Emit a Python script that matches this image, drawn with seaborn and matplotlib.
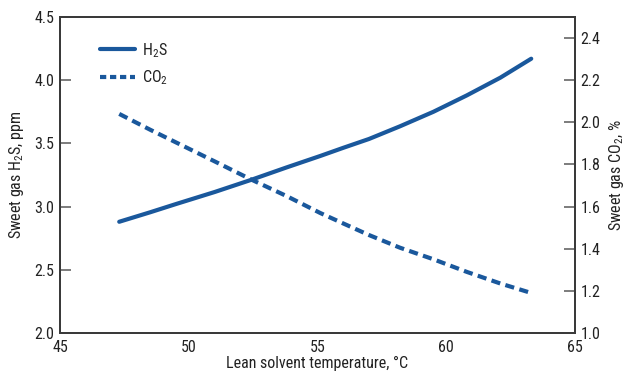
import matplotlib
matplotlib.use("Agg")
import matplotlib.pyplot as plt
from matplotlib import font_manager as fm
from matplotlib.lines import Line2D
import seaborn as sns
import pandas as pd

# Lean solvent temperature (°C) and sweet gas compositions
temperature = [47.3, 48.5, 49.5, 51.0, 52.4, 53.8, 55.1,
               56.0, 57.0, 58.2, 59.5, 60.8, 62.1, 63.3]
h2s_ppm = [2.88, 2.955, 3.02, 3.115, 3.21, 3.31, 3.40,
           3.465, 3.535, 3.635, 3.75, 3.88, 4.02, 4.17]
co2_pct = [2.04, 1.965, 1.905, 1.815, 1.73, 1.65, 1.57,
           1.52, 1.465, 1.405, 1.35, 1.29, 1.235, 1.19]

x_ticks = [45, 50, 55, 60, 65]
left_ticks = [2.0, 2.5, 3.0, 3.5, 4.0, 4.5]
right_ticks = [1.0, 1.2, 1.4, 1.6, 1.8, 2.0, 2.2, 2.4]

sns.set_theme(style="white")

# Prefer a narrow typeface when one is available
fonts = fm.fontManager.ttflist
names = {f.name for f in fonts}
narrow = [n for n in ("Liberation Sans Narrow", "Roboto Condensed",
                      "Open Sans Condensed", "DejaVu Sans Condensed",
                      "Noto Sans Condensed") if n in names]
stretch = "normal"
if narrow:
    family = [narrow[0], "DejaVu Sans"]
    fsize = 11.5
elif any(f.name == "DejaVu Sans" and "ondensed" in f.fname for f in fonts):
    family = ["DejaVu Sans"]
    stretch = "condensed"
    fsize = 11
else:
    family = ["Roboto", "DejaVu Sans"]
    fsize = 10
plt.rcParams["font.family"] = family
plt.rcParams["font.stretch"] = stretch
plt.rcParams["mathtext.default"] = "regular"

line_color = "#1a589c"
axis_color = "#3a3a3a"
text_color = "#222222"

df = pd.DataFrame({"temp": temperature, "h2s": h2s_ppm, "co2": co2_pct})

fig = plt.figure(figsize=(6.31, 3.80), dpi=100)
ax = fig.add_axes([60 / 631, 1 - 333 / 380, 515 / 631, 316 / 380])
ax2 = ax.twinx()

sns.lineplot(data=df, x="temp", y="h2s", ax=ax, color=line_color, lw=3.0,
             legend=False)
sns.lineplot(data=df, x="temp", y="co2", ax=ax2, color=line_color, lw=3.0,
             legend=False)
ax.lines[0].set_solid_joinstyle("round")
ax2.lines[0].set_dashes([2.2, 1.3])

ax.set_xlim(45, 65)
ax.set_ylim(2.0, 4.5)
ax2.set_ylim(1.0, 2.5)
ax.set_xticks(x_ticks)
ax.set_xticklabels([str(v) for v in x_ticks])
ax.set_yticks(left_ticks)
ax.set_yticklabels([f"{v:.1f}" for v in left_ticks])
ax2.set_yticks(right_ticks)
ax2.set_yticklabels([f"{v:.1f}" for v in right_ticks])

for a in (ax, ax2):
    for s in a.spines.values():
        s.set_visible(True)
        s.set_color(axis_color)
        s.set_linewidth(1.4)
    a.tick_params(direction="in", length=8, width=1.2, color="#666666",
                  labelcolor=text_color, labelsize=fsize)
ax.tick_params(axis="x", pad=5)
ax.tick_params(axis="y", pad=4)
ax2.tick_params(axis="y", pad=4)

ax.set_xlabel("Lean solvent temperature, °C", fontsize=fsize, color=text_color,
              labelpad=1)
ax.set_ylabel("Sweet gas H$_2$S, ppm", fontsize=fsize, color=text_color,
              labelpad=6)
ax2.set_ylabel("Sweet gas CO$_2$, %", fontsize=fsize, color=text_color,
               labelpad=5, rotation=90)

handles = [Line2D([], [], color=line_color, lw=3.0),
           Line2D([], [], color=line_color, lw=3.0, dashes=[1.5, 0.9])]
leg = ax.legend(handles, ["H$_2$S", "CO$_2$"], loc="upper left",
                bbox_to_anchor=(0.05, 0.97), frameon=False, fontsize=fsize,
                handlelength=2.2, handletextpad=0.4, labelspacing=0.55)
for t in leg.get_texts():
    t.set_color(text_color)

fig.savefig("out.png", dpi=100)
